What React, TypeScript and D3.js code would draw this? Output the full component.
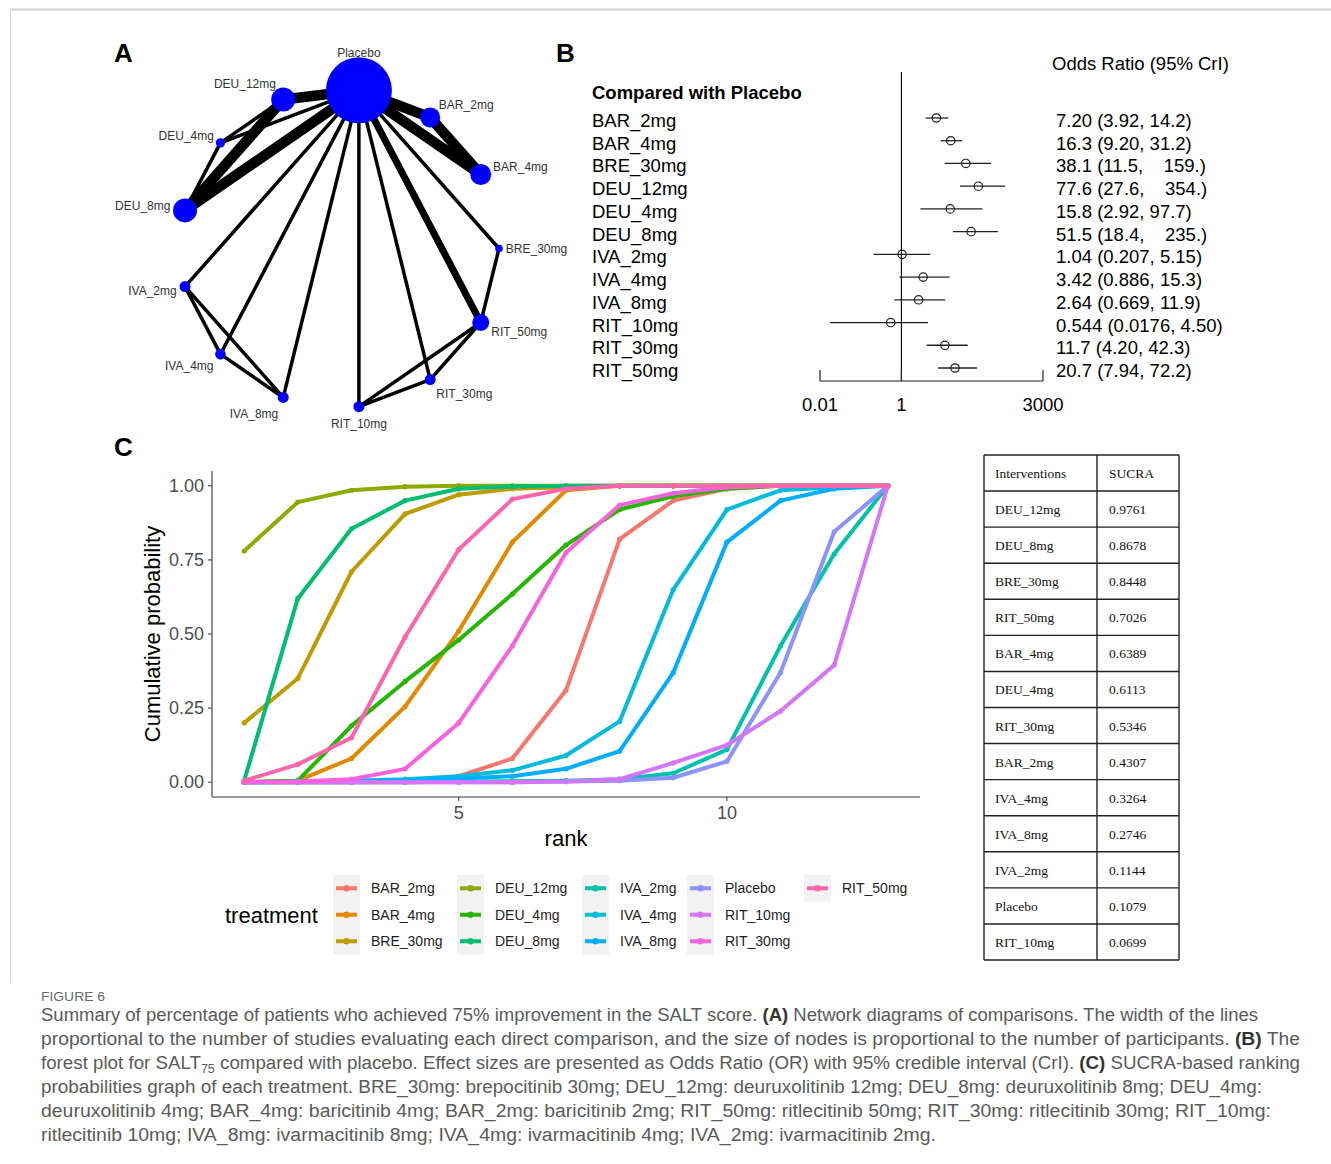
import * as d3 from 'd3';

// ---- data -------------------------------------------------------------

const treatments = [
  'BAR_2mg', 'BAR_4mg', 'BRE_30mg', 'DEU_12mg', 'DEU_4mg', 'DEU_8mg', 'IVA_2mg',
  'IVA_4mg', 'IVA_8mg', 'Placebo', 'RIT_10mg', 'RIT_30mg', 'RIT_50mg',
];
const palette = [
  '#F8766D', '#E18A00', '#BE9C00', '#8CAB00', '#24B700', '#00BE70', '#00C1AB',
  '#00BBDA', '#00ACFC', '#8B93FF', '#D575FE', '#F962DD', '#FF65AC',
];
const ranks = d3.range(1, 14);

// cumulative ranking probabilities, rank 1..13
const cumBAR2 = [0, 0, 0, 0.005, 0.02, 0.08, 0.31, 0.82, 0.95, 0.99, 1, 1, 1];
const cumBAR4 = [0, 0.005, 0.08, 0.255, 0.51, 0.81, 0.985, 1, 1, 1, 1, 1, 1];
const cumBRE30 = [0.2, 0.35, 0.71, 0.905, 0.97, 0.99, 0.995, 1, 1, 1, 1, 1, 1];
const cumDEU12 = [0.78, 0.945, 0.985, 0.997, 1, 1, 1, 1, 1, 1, 1, 1, 1];
const cumDEU4 = [0, 0.005, 0.19, 0.34, 0.48, 0.635, 0.8, 0.92, 0.965, 0.99, 1, 1, 1];
const cumDEU8 = [0.005, 0.62, 0.855, 0.95, 0.99, 0.998, 1, 1, 1, 1, 1, 1, 1];
const cumIVA2 = [0, 0, 0, 0, 0.002, 0.003, 0.005, 0.01, 0.03, 0.11, 0.46, 0.77, 1];
const cumIVA4 = [0, 0.002, 0.005, 0.01, 0.02, 0.04, 0.09, 0.205, 0.65, 0.92, 0.985, 0.995, 1];
const cumIVA8 = [0, 0.001, 0.003, 0.007, 0.012, 0.02, 0.045, 0.105, 0.37, 0.81, 0.95, 0.99, 1];
const cumPlacebo = [0, 0, 0, 0, 0, 0, 0.002, 0.005, 0.015, 0.07, 0.37, 0.845, 1];
const cumRIT10 = [0, 0, 0, 0, 0, 0, 0.002, 0.01, 0.065, 0.125, 0.24, 0.395, 1];
const cumRIT30 = [0, 0.002, 0.01, 0.045, 0.2, 0.46, 0.775, 0.935, 0.975, 0.995, 1, 1, 1];
const cumRIT50 = [0.005, 0.06, 0.15, 0.49, 0.785, 0.955, 0.99, 1, 1, 1, 1, 1, 1];
const cumSeries = [
  cumBAR2, cumBAR4, cumBRE30, cumDEU12, cumDEU4, cumDEU8, cumIVA2,
  cumIVA4, cumIVA8, cumPlacebo, cumRIT10, cumRIT30, cumRIT50,
];

// forest plot (vs placebo)
const forestNames = treatments.filter((t) => t !== 'Placebo');
const orMean = [7.2, 16.3, 38.1, 77.6, 15.8, 51.5, 1.04, 3.42, 2.64, 0.544, 11.7, 20.7];
const orLow = [3.92, 9.2, 11.5, 27.6, 2.92, 18.4, 0.207, 0.886, 0.669, 0.0176, 4.2, 7.94];
const orHigh = [14.2, 31.2, 159, 354, 97.7, 235, 5.15, 15.3, 11.9, 4.5, 42.3, 72.2];
const orText = [
  '7.20 (3.92, 14.2)', '16.3 (9.20, 31.2)', '38.1 (11.5,    159.)', '77.6 (27.6,    354.)',
  '15.8 (2.92, 97.7)', '51.5 (18.4,    235.)', '1.04 (0.207, 5.15)', '3.42 (0.886, 15.3)',
  '2.64 (0.669, 11.9)', '0.544 (0.0176, 4.50)', '11.7 (4.20, 42.3)', '20.7 (7.94, 72.2)',
];
const forestTicks = [0.01, 1, 3000];

// SUCRA table
const sucraNames = [
  'DEU_12mg', 'DEU_8mg', 'BRE_30mg', 'RIT_50mg', 'BAR_4mg', 'DEU_4mg', 'RIT_30mg',
  'BAR_2mg', 'IVA_4mg', 'IVA_8mg', 'IVA_2mg', 'Placebo', 'RIT_10mg',
];
const sucraValues = [0.9761, 0.8678, 0.8448, 0.7026, 0.6389, 0.6113, 0.5346, 0.4307, 0.3264, 0.2746, 0.1144, 0.1079, 0.0699];

// network: nodes in circle order, relative node size, edges with number of studies
const circleOrder = [
  'BRE_30mg', 'BAR_4mg', 'BAR_2mg', 'Placebo', 'DEU_12mg', 'DEU_4mg', 'DEU_8mg',
  'IVA_2mg', 'IVA_4mg', 'IVA_8mg', 'RIT_10mg', 'RIT_30mg', 'RIT_50mg',
];
const nodeSize = [3.8, 10.5, 10, 33, 12, 4.7, 12, 5.5, 5.3, 5.5, 5.5, 5.5, 8.5];
const edgeList: [string, string, number][] = [
  ['Placebo', 'DEU_12mg', 3], ['Placebo', 'DEU_8mg', 3], ['DEU_12mg', 'DEU_8mg', 3],
  ['Placebo', 'DEU_4mg', 1], ['DEU_4mg', 'DEU_12mg', 1], ['DEU_4mg', 'DEU_8mg', 1],
  ['Placebo', 'BAR_2mg', 3], ['Placebo', 'BAR_4mg', 3], ['BAR_2mg', 'BAR_4mg', 3],
  ['Placebo', 'BRE_30mg', 1], ['BRE_30mg', 'RIT_50mg', 1], ['Placebo', 'RIT_50mg', 2],
  ['Placebo', 'RIT_30mg', 1], ['Placebo', 'RIT_10mg', 1], ['RIT_50mg', 'RIT_30mg', 1],
  ['RIT_50mg', 'RIT_10mg', 1], ['RIT_30mg', 'RIT_10mg', 1], ['Placebo', 'IVA_2mg', 1],
  ['Placebo', 'IVA_4mg', 1], ['Placebo', 'IVA_8mg', 1], ['IVA_2mg', 'IVA_4mg', 1],
  ['IVA_2mg', 'IVA_8mg', 1], ['IVA_4mg', 'IVA_8mg', 1],
];

// caption
type Seg = { t: string; b?: boolean; sub?: boolean };
const captionLines: Seg[][] = [
  [{ t: 'Summary of percentage of patients who achieved 75% improvement in the SALT score. ' }, { t: '(A)', b: true }, { t: ' Network diagrams of comparisons. The width of the lines' }],
  [{ t: 'proportional to the number of studies evaluating each direct comparison, and the size of nodes is proportional to the number of participants. ' }, { t: '(B)', b: true }, { t: ' The' }],
  [{ t: 'forest plot for SALT' }, { t: '75', sub: true }, { t: ' compared with placebo. Effect sizes are presented as Odds Ratio (OR) with 95% credible interval (CrI). ' }, { t: '(C)', b: true }, { t: ' SUCRA-based ranking' }],
  [{ t: 'probabilities graph of each treatment. BRE_30mg: brepocitinib 30mg; DEU_12mg: deuruxolitinib 12mg; DEU_8mg: deuruxolitinib 8mg; DEU_4mg:' }],
  [{ t: 'deuruxolitinib 4mg; BAR_4mg: baricitinib 4mg; BAR_2mg: baricitinib 2mg; RIT_50mg: ritlecitinib 50mg; RIT_30mg: ritlecitinib 30mg; RIT_10mg:' }],
  [{ t: 'ritlecitinib 10mg; IVA_8mg: ivarmacitinib 8mg; IVA_4mg: ivarmacitinib 4mg; IVA_2mg: ivarmacitinib 2mg.' }],
];
const captionEnds = [1258, 1300, 1300, 1262, 1271, 936];

const SANS = "'Liberation Sans', Arial, sans-serif";

export default function App() {
  return (
    <svg
      width={1331}
      height={1164}
      style={{ position: 'absolute', left: 0, top: 0, background: '#fff' }}
      fontFamily={SANS}
    >
      <line x1={10} y1={9.5} x2={1331} y2={9.5} stroke='#cfcfcf' strokeWidth={2} />
      <line x1={10.5} y1={9} x2={10.5} y2={982} stroke='#dcdcdc' strokeWidth={1} />
      <Network />
      <Forest />
      <RankPlot />
      <SucraTable />
      <Caption />
    </svg>
  );
}

function Network() {
  const cx = 339.7;
  const cy = 248.5;
  const R = 159.3;
  const rScale = d3.scaleLinear().domain([0, 33]).range([0, 33]);
  const wScale = d3.scaleLinear().domain([0, 3]).range([0, 10.5]);
  const nodes = circleOrder.map((name, i) => {
    const a = (i * 2 * Math.PI) / circleOrder.length;
    return { name, a, x: cx + R * Math.cos(a), y: cy - R * Math.sin(a), r: rScale(nodeSize[i]) };
  });
  const byName = new Map(nodes.map((n) => [n.name, n]));

  return (
    <g>
      <text x={114} y={62} fontSize={26} fontWeight='bold'>A</text>
      {edgeList.map(([s, t, n]) => {
        const a = byName.get(s)!;
        const b = byName.get(t)!;
        return (
          <line key={s + t} x1={a.x} y1={a.y} x2={b.x} y2={b.y} stroke='#000' strokeWidth={wScale(n)} />
        );
      })}
      {nodes.map((n) => (
        <circle key={n.name} cx={n.x} cy={n.y} r={n.r} fill='#0000FF' />
      ))}
      {nodes.map((n) => {
        const c = Math.cos(n.a);
        const s = Math.sin(n.a);
        let anchor = 'middle';
        let lx = n.x;
        if (c < -0.2) {
          anchor = 'end';
          lx = n.x + n.r * c - 3;
        } else if (c > 0.2) {
          anchor = 'start';
          lx = n.x + n.r * c + 3;
        }
        const ly = s > 0 ? n.y - s * (n.r + 5) : n.y - s * (n.r + 12);
        return (
          <text key={'l' + n.name} x={lx} y={ly + 4} fontSize={12} fill='#333' textAnchor={anchor}>
            {n.name}
          </text>
        );
      })}
    </g>
  );
}

function Forest() {
  const x = d3.scaleLog().domain([0.01, 3000]).range([820, 1043]);
  const y = d3.scalePoint<string>().domain(forestNames).range([120, 370]);
  const axisY = 381;
  return (
    <g fontSize={18.5}>
      <text x={556} y={62} fontSize={26} fontWeight='bold' fontFamily={SANS}>B</text>
      <text x={1052} y={70}>Odds Ratio (95% CrI)</text>
      <text x={592} y={99} fontWeight='bold'>Compared with Placebo</text>
      <line x1={x(1)} y1={72} x2={x(1)} y2={axisY} stroke='#111' strokeWidth={1.2} />
      {forestNames.map((name, i) => {
        const yy = y(name)!;
        return (
          <g key={name}>
            <text x={592} y={yy + 7}>{name}</text>
            <line x1={x(orLow[i])} x2={x(orHigh[i])} y1={yy - 2} y2={yy - 2} stroke='#222' strokeWidth={1.3} />
            <circle cx={x(orMean[i])} cy={yy - 2} r={4.2} fill='none' stroke='#222' strokeWidth={1.2} />
            <text x={1056} y={yy + 7} style={{ whiteSpace: 'pre' }}>{orText[i]}</text>
          </g>
        );
      })}
      <line x1={x(0.01)} x2={x(3000)} y1={axisY} y2={axisY} stroke='#222' strokeWidth={1.2} />
      {forestTicks.map((t) => (
        <g key={t}>
          <line x1={x(t)} x2={x(t)} y1={axisY} y2={axisY - 11} stroke='#222' strokeWidth={1.2} />
          <text x={x(t)} y={axisY + 30} textAnchor='middle'>{t}</text>
        </g>
      ))}
    </g>
  );
}

function RankPlot() {
  const x = d3.scaleLinear().domain([0.4, 13.6]).range([212, 920]);
  const y = d3.scaleLinear().domain([-0.05, 1.05]).range([797, 471]);
  const line = d3
    .line<number>()
    .x((_, i) => x(ranks[i]))
    .y((d) => y(d));
  const yTicks = [0, 0.25, 0.5, 0.75, 1];
  const xTicks = [5, 10];
  const colX = [333, 457, 582, 687, 804];
  const rowTop = 875;
  const rowH = 26.5;

  return (
    <g>
      <text x={114} y={456} fontSize={26} fontWeight='bold'>C</text>
      {cumSeries.map((s, k) => (
        <g key={treatments[k]}>
          <path d={line(s)!} fill='none' stroke={palette[k]} strokeWidth={4} strokeLinejoin='round' />
          {s.map((v, i) => (
            <circle key={i} cx={x(ranks[i])} cy={y(v)} r={2.6} fill={palette[k]} />
          ))}
        </g>
      ))}
      <line x1={x.range()[0]} x2={x.range()[0]} y1={471} y2={797} stroke='#333' strokeWidth={1.1} />
      <line x1={x.range()[0]} x2={x.range()[1]} y1={797} y2={797} stroke='#333' strokeWidth={1.1} />
      {yTicks.map((t) => (
        <g key={t}>
          <line x1={x.range()[0] - 4} x2={x.range()[0]} y1={y(t)} y2={y(t)} stroke='#333' />
          <text x={x.range()[0] - 8} y={y(t) + 6} fontSize={18} fill='#4D4D4D' textAnchor='end'>
            {t.toFixed(2)}
          </text>
        </g>
      ))}
      {xTicks.map((t) => (
        <g key={t}>
          <line x1={x(t)} x2={x(t)} y1={797} y2={801} stroke='#333' />
          <text x={x(t)} y={819} fontSize={18} fill='#4D4D4D' textAnchor='middle'>{t}</text>
        </g>
      ))}
      <text x={566} y={846} fontSize={22} textAnchor='middle'>rank</text>
      <text transform='translate(160,634) rotate(-90)' fontSize={22} textAnchor='middle'>
        Cumulative probability
      </text>

      <text x={225} y={923} fontSize={22}>treatment</text>
      {treatments.map((name, i) => {
        const col = Math.floor(i / 3);
        const row = i % 3;
        const kx = colX[col];
        const ky = rowTop + row * rowH;
        const cyk = ky + rowH / 2;
        return (
          <g key={'lg' + name}>
            <rect x={kx} y={ky} width={27} height={rowH} fill='#F2F2F2' />
            <line x1={kx + 3} x2={kx + 24} y1={cyk} y2={cyk} stroke={palette[i]} strokeWidth={4} />
            <circle cx={kx + 13.5} cy={cyk} r={3.2} fill={palette[i]} />
            <text x={kx + 38} y={cyk + 5} fontSize={14} fill='#222'>{name}</text>
          </g>
        );
      })}
    </g>
  );
}

function SucraTable() {
  const left = 984;
  const right = 1179;
  const mid = 1097;
  const rows = ['header', ...sucraNames];
  const y = d3.scaleBand<string>().domain(rows).range([455, 960]);
  return (
    <g fontFamily="'Liberation Serif', 'Times New Roman', serif" fontSize={13.5} fill='#111'>
      {rows.map((r) => (
        <line key={'h' + r} x1={left} x2={right} y1={y(r)!} y2={y(r)!} stroke='#222' strokeWidth={1.4} />
      ))}
      <line x1={left} x2={right} y1={960} y2={960} stroke='#222' strokeWidth={1.4} />
      <line x1={left} x2={left} y1={455} y2={960} stroke='#222' strokeWidth={1.4} />
      <line x1={mid} x2={mid} y1={455} y2={960} stroke='#222' strokeWidth={1.4} />
      <line x1={right} x2={right} y1={455} y2={960} stroke='#222' strokeWidth={1.4} />
      <text x={995} y={y('header')! + y.bandwidth() / 2 + 5}>Interventions</text>
      <text x={1109} y={y('header')! + y.bandwidth() / 2 + 5}>SUCRA</text>
      {sucraNames.map((n, i) => (
        <g key={n}>
          <text x={995} y={y(n)! + y.bandwidth() / 2 + 5}>{n}</text>
          <text x={1109} y={y(n)! + y.bandwidth() / 2 + 5}>{sucraValues[i].toFixed(4)}</text>
        </g>
      ))}
    </g>
  );
}

function Caption() {
  const x0 = 41;
  return (
    <g fontFamily="'Liberation Sans Narrow', 'Liberation Sans', Arial, sans-serif">
      <text x={x0} y={1001} fontSize={13} fill='#666' textLength={64} lengthAdjust='spacingAndGlyphs'>
        FIGURE 6
      </text>
      {captionLines.map((segs, li) => (
        <text
          key={li}
          x={x0}
          y={1021 + li * 24}
          fontSize={18}
          fill='#5a5a5a'
          textLength={captionEnds[li] - x0}
          lengthAdjust='spacingAndGlyphs'
          style={{ whiteSpace: 'pre' }}
        >
          {segs.map((s, si) =>
            s.sub ? (
              <tspan key={si} dy={4} fontSize={12}>{s.t}</tspan>
            ) : (
              <tspan
                key={si}
                dy={si > 0 && segs[si - 1].sub ? -4 : 0}
                fontWeight={s.b ? 'bold' : 'normal'}
                fill={s.b ? '#333' : '#5a5a5a'}
              >
                {s.t}
              </tspan>
            )
          )}
        </text>
      ))}
    </g>
  );
}
